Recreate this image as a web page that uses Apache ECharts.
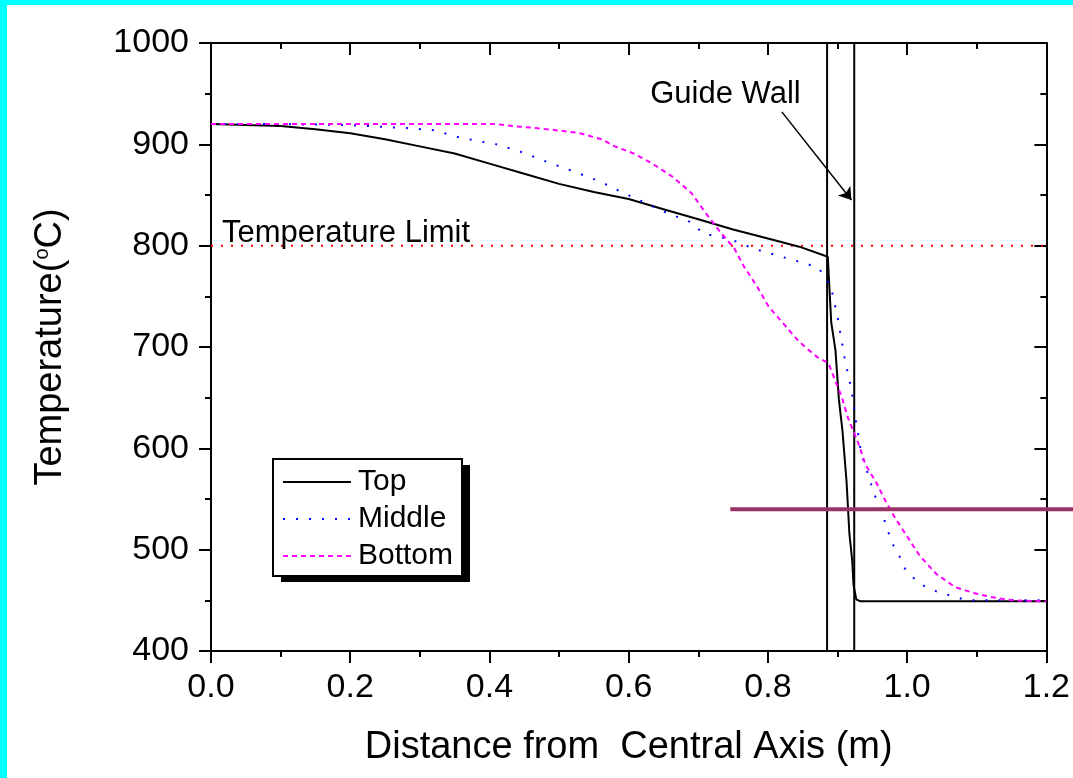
<!DOCTYPE html>
<html>
<head>
<meta charset="utf-8">
<script src="https://cdn.jsdelivr.net/npm/echarts@6/dist/echarts.min.js"></script>
<style>
  html, body { margin: 0; padding: 0; background: #fff; }
  #chart { position: absolute; left: 0; top: 0; width: 1073px; height: 778px; }
  .frame { position: absolute; background: #00ffff; }
</style>
</head>
<body>
<div id="chart"></div>
<div class="frame" style="left:0;top:0;width:1073px;height:5px"></div>
<div class="frame" style="left:0;top:0;width:7px;height:778px"></div>
<script>
// distance from central axis (m) / temperature (C)
const topX = [0, 0.05, 0.1, 0.15, 0.2, 0.25, 0.3, 0.35, 0.4, 0.45, 0.5, 0.55, 0.6, 0.65, 0.7, 0.75, 0.8, 0.845,
  0.886, 0.891, 0.897, 0.902, 0.907, 0.913, 0.917, 0.921, 0.923, 0.927, 0.933, 1.2];
const topT = [920, 919, 918, 915, 911, 905, 898, 891, 881, 871, 861, 853, 846, 836, 826, 816, 807, 799,
  789, 724, 697, 648, 618, 567, 516, 490, 465, 451, 449, 449];

const midX = [0, 0.1, 0.2, 0.281, 0.32, 0.356, 0.393, 0.41, 0.448, 0.485, 0.522, 0.56, 0.577, 0.615, 0.653, 0.69,
  0.707, 0.727, 0.744, 0.78, 0.82, 0.856, 0.873, 0.891, 0.895, 0.9, 0.91, 0.916, 0.92, 0.925, 0.934, 0.946,
  0.951, 0.966, 0.978, 0.988, 0.997, 1.015, 1.032, 1.07, 1.087, 1.2];
const midT = [920, 920, 919, 916, 914, 907, 902, 900, 892, 882, 873, 863, 857, 845, 833, 823,
  812, 809, 807, 797, 789, 782, 778, 759, 745, 730, 690, 670, 659, 633, 595, 570,
  558, 532, 507, 495, 481, 468, 461, 453, 450, 450];

const botX = [0, 0.2, 0.41, 0.434, 0.468, 0.508, 0.53, 0.561, 0.58, 0.607, 0.634, 0.663, 0.69, 0.711, 0.732,
  0.752, 0.766, 0.785, 0.801, 0.821, 0.845, 0.871, 0.887, 0.896, 0.906, 0.915, 0.93, 0.94, 0.955, 0.969,
  0.983, 1.001, 1.018, 1.042, 1.069, 1.097, 1.123, 1.151, 1.2];
const botT = [920, 920, 920, 918, 916, 913, 911, 905, 898, 891, 881, 868, 852, 832, 813,
  797, 779, 759, 740, 724, 705, 690, 684, 668, 651, 630, 605, 584, 567, 548,
  531, 512, 494, 476, 463, 457, 453, 450, 449];

const limitX = [0, 1.2];
const limitT = [800, 800];

const xTicks = [0, 1.2, 0.2];      // min, max, step
const yTicks = [400, 1000, 100];

// annotations
const wallX = [0.885, 0.924];
const arrowFrom = [0.82, 932];
const arrowTo = [0.92, 845];
const limitLabelAt = [0.194, 812];
const wallLabelAt = [0.739, 949];
const purpleLine = [0.746, 540];

const FONT = '"Liberation Sans", Arial, sans-serif';
const zip = (xs, ys) => xs.map((x, i) => [x, ys[i]]);

const chart = echarts.init(document.getElementById('chart'));

function xAxisAt(pos) {
  const outer = pos === 'bottom';
  return {
    type: 'value', position: pos,
    min: xTicks[0], max: xTicks[1], interval: xTicks[2],
    axisLine: { show: true, onZero: false, lineStyle: { color: '#000', width: 2 } },
    axisTick: { show: true, inside: !outer, length: 12, lineStyle: { color: '#000', width: 2 } },
    minorTick: { show: true, splitNumber: 2, length: 6, lineStyle: { color: '#000', width: 2 } },
    splitLine: { show: false },
    axisLabel: {
      show: outer, margin: 20, fontSize: 34, fontFamily: FONT, color: '#000',
      formatter: v => v.toFixed(1)
    },
    name: outer ? 'Distance from  Central Axis (m)' : '',
    nameLocation: 'middle', nameGap: 78,
    nameTextStyle: { fontSize: 38, fontFamily: FONT, color: '#000' }
  };
}

function yAxisAt(pos) {
  const outer = pos === 'left';
  return {
    type: 'value', position: pos,
    min: yTicks[0], max: yTicks[1], interval: yTicks[2],
    axisLine: { show: true, onZero: false, lineStyle: { color: '#000', width: 2 } },
    axisTick: { show: true, inside: !outer, length: 12, lineStyle: { color: '#000', width: 2 } },
    minorTick: { show: true, splitNumber: 2, length: 6, lineStyle: { color: '#000', width: 2 } },
    splitLine: { show: false },
    axisLabel: { show: outer, margin: 22, fontSize: 34, fontFamily: FONT, color: '#000', formatter: v => String(v) },
    name: outer ? 'Temperature({sup|o}C)' : '',
    nameLocation: 'middle', nameGap: 141,
    nameTextStyle: {
      fontSize: 38, fontFamily: FONT, color: '#000',
      rich: { sup: { fontSize: 20, fontFamily: FONT, color: '#000', verticalAlign: 'top' } }
    }
  };
}

// legend frame with its hard black drop shadow
const boxL = 273, boxT = 459, boxW = 189, boxH = 117;

chart.setOption({
  animation: false,
  backgroundColor: '#fff',
  grid: { left: 211, right: 26, top: 43, bottom: 127 },
  xAxis: [xAxisAt('bottom'), xAxisAt('top')],
  yAxis: [yAxisAt('left'), yAxisAt('right')],
  legend: {
    data: ['Top', 'Middle', 'Bottom'],
    orient: 'vertical', left: boxL, top: boxT, z: 20,
    padding: [8, 10, 6, 9], itemGap: 7, itemWidth: 68, itemHeight: 14,
    selectedMode: false,
    itemStyle: { color: 'rgba(0,0,0,0)', borderColor: 'rgba(0,0,0,0)', borderWidth: 0, opacity: 0 },
    textStyle: { fontSize: 30, fontFamily: FONT, color: '#000', padding: [0, 0, 0, 2] }
  },
  graphic: [
    { type: 'rect', silent: true, z: 18, shape: { x: boxL + 8, y: boxT + 6, width: boxW, height: boxH }, style: { fill: '#000' } },
    { type: 'rect', silent: true, z: 19, shape: { x: boxL, y: boxT, width: boxW, height: boxH }, style: { fill: '#fff', stroke: '#000', lineWidth: 2 } }
  ],
  series: [
    {
      name: 'Temperature Limit', type: 'line', data: zip(limitX, limitT),
      symbol: 'none', silent: true,
      lineStyle: { color: '#ff0000', width: 2, type: [2, 8] },
      markArea: {
        silent: true,
        itemStyle: { color: 'rgba(0,0,0,0)', borderColor: '#000', borderWidth: 2 },
        data: [[{ coord: [wallX[0], yTicks[0]] }, { coord: [wallX[1], yTicks[1]] }]]
      },
      markLine: {
        silent: true, symbol: ['none', 'arrow'], symbolSize: 12,
        lineStyle: { color: '#000', width: 1.5, type: 'solid' },
        label: { show: false },
        data: [[{ coord: arrowFrom }, { coord: arrowTo }]]
      },
      markPoint: {
        silent: true, symbol: 'circle', symbolSize: 1,
        itemStyle: { color: 'rgba(0,0,0,0)' },
        label: { show: true, position: 'inside', fontSize: 31, fontFamily: FONT, color: '#000', formatter: '{b}' },
        data: [
          { name: 'Temperature Limit', coord: limitLabelAt },
          { name: 'Guide Wall', coord: wallLabelAt }
        ]
      }
    },
    {
      name: 'Top', type: 'line', data: zip(topX, topT), symbol: 'none',
      itemStyle: { color: '#000' },
      lineStyle: { color: '#000', width: 2, type: 'solid' }
    },
    {
      name: 'Middle', type: 'line', data: zip(midX, midT), symbol: 'none',
      itemStyle: { color: '#0000ff' },
      lineStyle: { color: '#0000ff', width: 2, type: [2, 11] }
    },
    {
      name: 'Bottom', type: 'line', data: zip(botX, botT), symbol: 'none',
      itemStyle: { color: '#ff00ff' },
      lineStyle: { color: '#ff00ff', width: 2, type: [5, 4] }
    }
  ]
});

// stray purple rule running off the right edge
const p0 = chart.convertToPixel({ gridIndex: 0 }, purpleLine);
chart.setOption({
  graphic: [{
    id: 'purple', type: 'line', silent: true, z: 100,
    shape: { x1: p0[0], y1: p0[1], x2: chart.getWidth(), y2: p0[1] },
    style: { stroke: '#993366', lineWidth: 4 }
  }]
});
</script>
</body>
</html>
